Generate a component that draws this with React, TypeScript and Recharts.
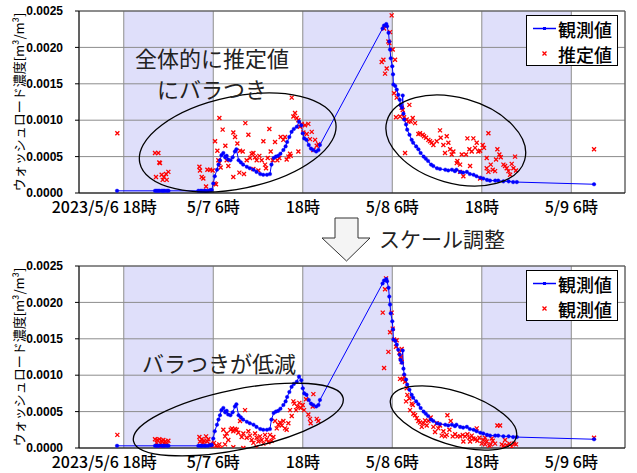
import React from 'react'
import {
  ComposedChart,
  Line,
  Scatter,
  XAxis,
  YAxis,
  CartesianGrid,
  ReferenceLine,
  Legend,
} from 'recharts'

// hours counted from 2023/5/6 0:00
const X_MIN = 12
const X_MAX = 85.2
const xTicks = [18, 30, 42, 54, 66, 78]
const xTickLabels = ['2023/5/6 18時', '5/7 6時', '18時', '5/8 6時', '18時', '5/9 6時']
const yTicks = [0, 0.0005, 0.001, 0.0015, 0.002, 0.0025]

// 観測値 (observed)
const observedHours = [
  17.1, 22.2, 22.4, 22.6, 22.8, 23.1, 23.3, 23.5, 23.8, 24.0,
  28.0, 28.3, 28.5, 28.8, 29.0, 29.3, 29.6, 29.8, 30.0, 30.2,
  30.5, 30.7, 30.9, 31.1, 31.35, 31.6, 31.8, 32.0, 32.3, 32.6,
  32.9, 33.1, 33.4, 33.7, 34.0, 34.5, 34.9, 35.4, 35.8, 36.3,
  36.7, 37.2, 37.6, 37.8, 38.1, 38.4, 38.7, 39.0, 39.4, 39.7,
  39.9, 40.2, 40.5, 40.8, 41.2, 41.5, 41.8, 42.0, 42.2, 42.5,
  42.8, 43.1, 43.4, 43.8, 44.1, 44.3, 52.7, 52.9, 53.2, 53.3,
  53.5, 53.6, 53.7, 53.8, 54.0, 54.1, 54.15, 54.4, 54.6, 54.8,
  55.0, 55.1, 55.3, 55.4, 55.5, 55.6, 55.85, 56.0, 56.3, 56.6,
  56.8, 57.2, 57.5, 57.8, 58.2, 58.5, 58.8, 59.2, 59.5, 60.0,
  60.4, 61.1, 61.5, 62.0, 62.4, 62.6, 63.1, 63.5, 64.0, 64.4,
  64.9, 65.3, 65.8, 66.2, 66.7, 67.1, 67.8, 68.2, 68.9, 69.6,
  70.2, 70.7, 81.05,
]
const observedValues = [
  0.00003, 0.00003, 0.00003, 0.00003, 0.00003, 0.00003, 0.00003, 0.00003, 0.00003, 0.00003,
  0.00003, 0.00003, 0.00003, 0.00003, 0.00003, 0.00003, 0.00004, 0.00004, 0.00013, 0.00023,
  0.00032, 0.00039, 0.00045, 0.00052, 0.00055, 0.00049, 0.00051, 0.00046, 0.00045, 0.00049,
  0.00057, 0.0006, 0.00045, 0.00042, 0.00039, 0.00036, 0.00034, 0.00032, 0.00029, 0.00026,
  0.00025, 0.00025, 0.00026, 0.00039, 0.00048, 0.0005, 0.00051, 0.00054, 0.00059, 0.00064,
  0.0007, 0.00077, 0.00084, 0.00088, 0.00091, 0.00098, 0.00093, 0.00082, 0.00075, 0.00073,
  0.00066, 0.00061, 0.00059, 0.00057, 0.00059, 0.00066, 0.00226, 0.0023, 0.00232, 0.00229,
  0.0022, 0.00208, 0.00197, 0.00185, 0.00174, 0.00163, 0.00149, 0.00147, 0.00142, 0.00135,
  0.00128, 0.00121, 0.00117, 0.00134, 0.00109, 0.00101, 0.00094, 0.00087, 0.0008, 0.00073,
  0.00069, 0.00064, 0.0006, 0.00055, 0.0005, 0.00047, 0.00044, 0.00039, 0.00037, 0.00034,
  0.00033, 0.00032, 0.00031, 0.00032, 0.0003, 0.00032, 0.00029, 0.00028, 0.00029, 0.00026,
  0.00025, 0.00023, 0.00021, 0.0002, 0.00018, 0.00017, 0.00017, 0.00017, 0.00016, 0.00016,
  0.00015, 0.00015, 0.00012,
]

// 推定値 before scale adjustment (top chart)
const estimateBefore: [number, number][] = [
  [17.14, 0.00082], [22.19, 0.00055], [22.64, 0.00055], [22.77, 0.00042], [22.86, 0.00041],
  [22.32, 0.00022], [23.08, 0.00025], [23.4, 0.00022], [23.67, 0.00026], [23.98, 0.00029],
  [23.22, 0.00018], [23.76, 0.00018], [28.14, 0.00036], [28.22, 0.00031], [28.45, 0.00022],
  [28.67, 0.0002], [29.03, 0.00009], [29.21, 0.00032], [29.57, 0.00032], [29.92, 0.00031],
  [30.19, 0.00013], [30.37, 0.00012], [30.24, 0.00071], [30.55, 0.00058], [30.68, 0.00045],
  [30.82, 0.00041], [30.99, 0.00035], [31.26, 0.00087], [31.62, 0.00065], [31.8, 0.00045],
  [32.02, 0.00037], [30.82, 0.00103], [32.69, 0.00083], [32.92, 0.00077], [33.23, 0.00068],
  [33.59, 0.00058], [33.95, 0.00057], [34.3, 0.00096], [34.48, 0.00045], [34.71, 0.0008],
  [34.93, 0.00048], [35.15, 0.00054], [35.38, 0.00055], [35.6, 0.00049], [35.82, 0.00045],
  [36.18, 0.00051], [36.49, 0.00045], [36.72, 0.00071], [36.94, 0.00039], [37.07, 0.00034],
  [37.3, 0.00048], [37.52, 0.00088], [37.7, 0.00057], [37.97, 0.00045], [38.28, 0.0007],
  [38.59, 0.00045], [38.86, 0.00048], [39.04, 0.00077], [39.4, 0.00073], [39.62, 0.00077],
  [39.84, 0.00046], [40.07, 0.0005], [40.29, 0.00054], [40.52, 0.00131], [40.74, 0.00105],
  [40.96, 0.0011], [41.19, 0.00103], [41.41, 0.001], [41.63, 0.00091], [41.86, 0.00095],
  [42.08, 0.00083], [42.3, 0.00093], [42.53, 0.00081], [42.75, 0.00095], [42.97, 0.00074],
  [43.2, 0.00084], [43.42, 0.00059], [43.65, 0.00073], [43.87, 0.00065], [44.09, 0.00067],
  [41.41, 0.00057], [40.38, 0.00051], [32.69, 0.00022], [34.12, 0.00026], [33.5, 0.00028],
  [36.05, 0.00031], [35.38, 0.00033],
  [53.92, 0.00244], [52.9, 0.00226], [53.7, 0.00221], [53.48, 0.00208], [53.61, 0.00206],
  [54.06, 0.00197], [52.81, 0.00183], [52.58, 0.0018], [53.25, 0.00171], [53.03, 0.00164],
  [54.37, 0.00183], [54.24, 0.00137], [54.59, 0.00131], [56.29, 0.00121], [55.26, 0.00117],
  [55.4, 0.00114], [54.5, 0.00104], [55.04, 0.00105], [55.58, 0.00104], [55.93, 0.00101],
  [56.16, 0.00098], [56.47, 0.00098], [56.74, 0.00103], [57.05, 0.00096], [55.71, 0.00055],
  [57.5, 0.00081], [57.72, 0.00082], [58.08, 0.0008], [58.26, 0.00078], [58.53, 0.00076],
  [58.84, 0.00073], [59.06, 0.00071], [59.29, 0.00069], [59.51, 0.00066], [59.96, 0.00071],
  [60.4, 0.00086], [60.49, 0.00076], [60.85, 0.00066], [61.07, 0.00055], [61.3, 0.00078],
  [61.52, 0.00069], [61.75, 0.0006], [61.97, 0.00053], [62.19, 0.00057], [62.64, 0.00041],
  [62.73, 0.00044], [63.09, 0.00039], [63.31, 0.00053], [63.89, 0.00053], [64.07, 0.00075],
  [64.34, 0.0006], [64.65, 0.00057], [64.87, 0.00075], [65.1, 0.00062], [65.32, 0.00069],
  [65.54, 0.00057], [65.77, 0.00058], [66.12, 0.00066], [66.3, 0.00062], [66.66, 0.00048],
  [66.89, 0.00082], [67.2, 0.00039], [67.47, 0.00032], [67.78, 0.0003], [67.91, 0.00046],
  [68.09, 0.0006], [68.36, 0.00053], [68.54, 0.00049], [68.9, 0.00039], [69.12, 0.00037],
  [69.34, 0.00034], [69.57, 0.0003], [69.79, 0.00025], [70.01, 0.0004], [70.24, 0.00034],
  [70.46, 0.0005], [70.59, 0.00031], [64.43, 0.00037], [63.09, 0.00029], [63.53, 0.00023],
  [66.66, 0.00034], [65.77, 0.0002], [66.89, 0.00029], [81.05, 0.0006],
]

// 推定値 after scale adjustment (bottom chart)
const estimateAfter: [number, number][] = [
  [17.14, 0.00018], [22.19, 0.00012], [22.5, 0.00011], [22.77, 0.00012], [23.08, 0.0001],
  [23.31, 0.00011], [23.58, 0.00009], [23.98, 0.0001], [22.41, 0.00007], [22.95, 0.00006],
  [23.4, 0.00007], [23.76, 0.00005], [22.64, 0.00003], [23.22, 0.00003], [28.14, 0.00015],
  [28.45, 0.00012], [28.76, 0.0001], [29.03, 0.00016], [29.21, 0.00009], [28.22, 0.00009],
  [28.67, 0.00007], [29.34, 0.00012], [29.57, 0.00005], [29.79, 0.00001], [30.1, 0.00007],
  [30.37, 0.00003], [30.55, 0.00001], [30.82, 0.00005], [30.99, 0.0], [31.35, 0.00025],
  [31.58, 0.00016], [31.8, 0.0002], [32.02, 0.00011], [32.34, 0.00025], [32.51, 0.00027],
  [32.69, 0.00023], [32.92, 0.00026], [33.14, 0.00025], [33.36, 0.00021], [33.59, 0.00037],
  [33.81, 0.00015], [34.03, 0.0002], [34.26, 0.00052], [34.48, 0.00014], [34.71, 0.00023],
  [34.93, 0.00017], [35.15, 0.00011], [35.38, 0.00007], [35.6, 0.0002], [35.82, 0.00014],
  [36.05, 0.00009], [36.27, 0.00016], [36.49, 0.00011], [36.72, 0.00006], [36.94, 0.00018],
  [37.16, 0.00012], [37.39, 0.00008], [37.61, 0.00018], [37.83, 0.0001], [38.06, 0.00015],
  [38.28, 0.00037], [38.51, 0.00027], [38.73, 0.00032], [38.95, 0.00035], [39.18, 0.00031],
  [39.4, 0.00037], [39.62, 0.00027], [39.84, 0.00025], [40.07, 0.00034], [40.29, 0.00052],
  [40.52, 0.00044], [40.74, 0.00064], [40.87, 0.00061], [41.1, 0.00052], [41.28, 0.00057],
  [41.54, 0.00062], [41.72, 0.00055], [41.99, 0.00059], [42.17, 0.00052], [42.44, 0.00067],
  [42.75, 0.00046], [42.97, 0.0004], [43.06, 0.00034], [43.33, 0.00057], [43.42, 0.00074],
  [43.87, 0.0004], [44.09, 0.00037], [34.03, 0.0], [35.82, 0.00001], [31.58, 0.00005],
  [32.69, 0.00001],
  [53.16, 0.00233], [53.03, 0.00218], [52.72, 0.00186], [53.92, 0.00186], [54.06, 0.00164],
  [53.7, 0.00159], [54.24, 0.00149], [54.59, 0.00148], [54.5, 0.00139], [53.48, 0.00132],
  [52.9, 0.0011], [54.95, 0.00131], [55.26, 0.00136], [55.13, 0.00125], [55.26, 0.00118],
  [55.04, 0.00095], [55.4, 0.00094], [55.58, 0.00098], [55.71, 0.00091], [55.93, 0.00082],
  [56.02, 0.00073], [56.29, 0.00068], [55.85, 0.00064], [56.6, 0.00061], [56.38, 0.00052],
  [56.83, 0.00047], [57.05, 0.00045], [56.74, 0.00059], [57.28, 0.00041], [57.5, 0.00037],
  [57.72, 0.00035], [57.95, 0.00029], [58.17, 0.00034], [58.39, 0.00038], [58.62, 0.00031],
  [58.84, 0.00037], [59.15, 0.00042], [59.51, 0.00029], [59.73, 0.00022], [59.96, 0.00034],
  [60.18, 0.00027], [60.4, 0.00031], [60.63, 0.00017], [60.85, 0.00023], [61.07, 0.00016],
  [61.3, 0.00018], [61.39, 0.00045], [61.66, 0.00025], [61.83, 0.00037], [62.1, 0.00016],
  [62.42, 0.00019], [62.73, 0.00016], [63.09, 0.00016], [63.44, 0.00018], [63.76, 0.00016],
  [64.07, 0.00019], [64.34, 0.00014], [64.65, 0.00017], [64.87, 0.00013], [65.1, 0.00012],
  [65.32, 0.00027], [65.41, 0.0001], [65.68, 0.00014], [65.99, 0.00006], [66.21, 0.00011],
  [66.44, 0.00005], [66.66, 0.00009], [67.02, 0.00003], [67.2, 0.00005], [67.47, 0.0001],
  [67.78, 0.00006], [68.09, 0.00031], [68.45, 0.00031], [68.67, 0.00005], [68.9, 0.00003],
  [69.12, 0.00011], [69.34, 0.00004], [69.7, 0.00006], [70.01, 0.00002], [70.33, 0.00006],
  [70.59, 0.00005], [64.43, 0.00009], [63.53, 0.00009], [66.44, 0.00014], [67.33, 0.00013],
  [81.05, 0.00014],
]

const observed = observedHours.map((h, i) => ({ h, v: observedValues[i] }))
const toRows = (pairs: [number, number][]) => pairs.map(([h, v]) => ({ h, v }))

const JP = '"Noto Sans CJK JP", "Noto Sans", sans-serif'
const BLUE = '#0000FF'
const RED = '#FF0000'

const XTick = (props: any) => {
  const { x, y, payload } = props
  const i = xTicks.indexOf(payload.value)
  const first = i === 0
  return (
    <text
      x={first ? x + 33 : x}
      y={y}
      dy={5}
      textAnchor={first ? 'end' : 'middle'}
      dominantBaseline="central"
      fontSize={16}
      fontWeight={500}
      fontFamily={JP}
      fill="#000"
    >
      {xTickLabels[i]}
    </text>
  )
}

const YTitle = (props: any) => {
  const vb = props.viewBox || { y: 11, height: 182 }
  const cy = vb.y + vb.height / 2
  return (
    <text
      x={18}
      y={cy}
      transform={`rotate(-90 18 ${cy})`}
      textAnchor="middle"
      dominantBaseline="central"
      fontSize={13}
      fontFamily={JP}
      fill="#000"
    >
      ウォッシュロード濃度[m³/m³]
    </text>
  )
}

const Cross = (props: any) => {
  const { cx, cy } = props
  if (cx == null || cy == null) return null
  const s = 2
  return (
    <path
      d={`M${cx - s},${cy - s}L${cx + s},${cy + s}M${cx + s},${cy - s}L${cx - s},${cy + s}`}
      stroke={RED}
      strokeWidth={1.3}
      fill="none"
    />
  )
}

function LegendBox({ estName }: { estName: string }) {
  const row = { display: 'flex', alignItems: 'center', height: 25 } as const
  return (
    <div
      style={{
        border: '1px solid #000',
        background: '#fff',
        width: 92,
        height: 51,
        boxSizing: 'border-box',
        fontFamily: JP,
        fontSize: 18,
        fontWeight: 500,
        color: '#000',
      }}
    >
      <div style={row}>
        <svg width={31} height={25}>
          <line x1={6} x2={29} y1={12.5} y2={12.5} stroke={BLUE} strokeWidth={1.5} />
          <rect x={16} y={11} width={3} height={3} fill={BLUE} />
        </svg>
        <span>観測値</span>
      </div>
      <div style={row}>
        <svg width={31} height={25}>
          <path d="M15.5,10.5L19.5,14.5M19.5,10.5L15.5,14.5" stroke={RED} strokeWidth={1.3} />
        </svg>
        <span>{estName}</span>
      </div>
    </div>
  )
}

function Panel({ top, estimate, estName }: { top: number; estimate: [number, number][]; estName: string }) {
  return (
    <div style={{ position: 'absolute', left: 0, top, width: 637, height: 218 }}>
      <ComposedChart width={637} height={218} margin={{ top: 11, right: 12, bottom: 0, left: 0 }}>
        <CartesianGrid stroke="#8c8c8c" verticalFill={['#FFFFFF', '#DFDFFA']} fillOpacity={1} />
        <XAxis
          type="number"
          dataKey="h"
          domain={[X_MIN, X_MAX]}
          ticks={xTicks}
          interval={0}
          tickLine={false}
          axisLine={{ stroke: '#000' }}
          height={25}
          tick={<XTick />}
          allowDataOverflow
        />
        <YAxis
          type="number"
          dataKey="v"
          domain={[0, 0.0025]}
          ticks={yTicks}
          width={79}
          tickSize={4}
          tickMargin={12}
          tickLine={{ stroke: '#000' }}
          axisLine={{ stroke: '#000' }}
          tickFormatter={(v: number) => v.toFixed(4)}
          tick={{ fontSize: 12, fill: '#000', fontFamily: '"Liberation Sans", Arial, sans-serif', fontWeight: 'bold' }}
          label={<YTitle />}
          allowDataOverflow
        />
        <ReferenceLine x={X_MAX} stroke="#555" />
        <ReferenceLine y={0.0025} stroke="#555" />
        <Line
          data={observed}
          dataKey="v"
          type="linear"
          stroke={BLUE}
          strokeWidth={1}
          dot={{ r: 1.8, fill: BLUE, stroke: BLUE, strokeWidth: 0.4 }}
          activeDot={false}
          isAnimationActive={false}
        />
        <Scatter data={toRows(estimate)} dataKey="v" shape={Cross} isAnimationActive={false} />
        <Legend
          layout="vertical"
          align="center"
          verticalAlign="middle"
          wrapperStyle={{ left: 526, top: 15, width: 92 }}
          content={() => <LegendBox estName={estName} />}
        />
      </ComposedChart>
    </div>
  )
}

export default function App() {
  return (
    <div style={{ position: 'absolute', left: 0, top: 0, width: 637, height: 473, background: '#fff' }}>
      <Panel top={0} estimate={estimateBefore} estName="推定値" />
      <Panel top={255} estimate={estimateAfter} estName="観測値" />
      <svg
        width={637}
        height={473}
        style={{ position: 'absolute', left: 0, top: 0, pointerEvents: 'none' }}
        fontFamily={JP}
      >
        <g fill="none" stroke="#000" strokeWidth={1.3}>
          <ellipse cx={237.7} cy={142.5} rx={100} ry={46} transform="rotate(-11.7 237.7 142.5)" />
          <ellipse cx={455.8} cy={140.5} rx={71.6} ry={42.7} transform="rotate(15.9 455.8 140.5)" />
          <ellipse cx={238.3} cy={419.5} rx={107} ry={30} transform="rotate(-11.6 238.3 419.5)" />
          <ellipse cx={453.5} cy={418} rx={65.7} ry={26.7} transform="rotate(17.4 453.5 418)" />
        </g>
        <g fill="#222" fontSize={22} textAnchor="middle" dominantBaseline="central">
          <text x={212} y={57}>全体的に推定値</text>
          <text x={212} y={88}>にバラつき</text>
          <text x={219} y={362}>バラつきが低減</text>
        </g>
        <polygon
          points="335,218 358,218 358,238 370,238 346.5,261 322,238 335,238"
          fill="#F4F4F4"
          stroke="#333"
          strokeWidth={1}
        />
        <text x={442} y={238} fontSize={21} fill="#222" textAnchor="middle" dominantBaseline="central">
          スケール調整
        </text>
      </svg>
    </div>
  )
}
